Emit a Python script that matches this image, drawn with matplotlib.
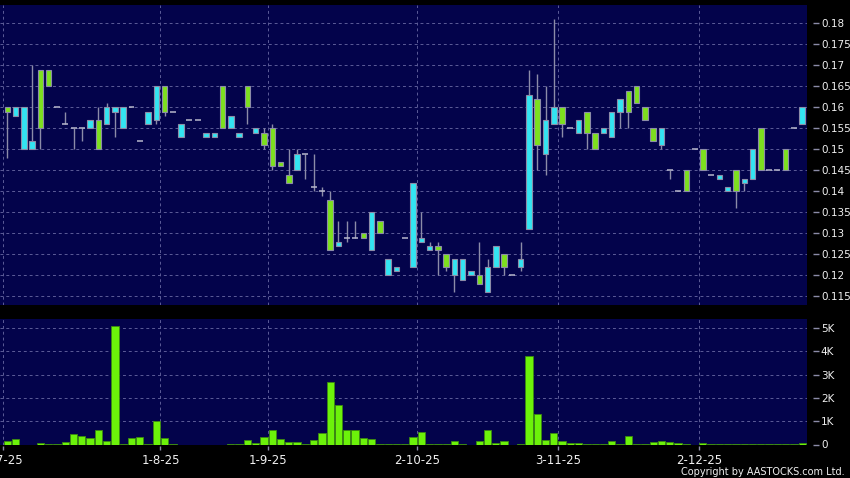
import matplotlib
matplotlib.use('Agg')
from matplotlib import pyplot as plt
from matplotlib.ticker import FixedLocator, FuncFormatter
import numpy as np

# daily candles (one slot per trading day with a trade)
opens = [0.160, 0.158, 0.150, 0.150, 0.169, 0.169, 0.160, 0.156, 0.155, 0.155,
         0.155, 0.157, 0.156, 0.159, 0.155, 0.160, 0.152, 0.156, 0.157, 0.165,
         0.159, 0.153, 0.157, 0.157, 0.153, 0.153, 0.165, 0.155, 0.153, 0.165,
         0.154, 0.154, 0.155, 0.147, 0.144, 0.145, 0.149, 0.141, 0.140, 0.138,
         0.127, 0.129, 0.129, 0.130, 0.126, 0.133, 0.120, 0.121, 0.129, 0.122,
         0.128, 0.126, 0.127, 0.125, 0.120, 0.119, 0.120, 0.120, 0.116, 0.122,
         0.125, 0.120, 0.122, 0.131, 0.162, 0.149, 0.156, 0.160, 0.155, 0.154,
         0.159, 0.154, 0.154, 0.153, 0.159, 0.164, 0.165, 0.160, 0.155, 0.151,
         0.145, 0.140, 0.145, 0.150, 0.150, 0.144, 0.143, 0.140, 0.145, 0.142,
         0.143, 0.155, 0.145, 0.145, 0.150, 0.155, 0.156]
highs = [0.160, 0.160, 0.160, 0.170, 0.169, 0.169, 0.160, 0.159, 0.155, 0.155,
         0.157, 0.160, 0.161, 0.160, 0.160, 0.160, 0.152, 0.159, 0.165, 0.165,
         0.159, 0.156, 0.157, 0.157, 0.154, 0.154, 0.165, 0.158, 0.154, 0.165,
         0.155, 0.155, 0.156, 0.147, 0.150, 0.150, 0.149, 0.149, 0.141, 0.140,
         0.133, 0.133, 0.133, 0.130, 0.135, 0.133, 0.124, 0.122, 0.129, 0.142,
         0.135, 0.128, 0.128, 0.125, 0.124, 0.124, 0.121, 0.128, 0.124, 0.127,
         0.125, 0.120, 0.128, 0.169, 0.168, 0.165, 0.181, 0.160, 0.155, 0.157,
         0.159, 0.154, 0.155, 0.159, 0.162, 0.164, 0.165, 0.160, 0.155, 0.155,
         0.145, 0.140, 0.145, 0.150, 0.150, 0.144, 0.144, 0.141, 0.145, 0.143,
         0.150, 0.155, 0.145, 0.145, 0.150, 0.155, 0.160]
lows = [0.148, 0.158, 0.150, 0.150, 0.150, 0.165, 0.160, 0.156, 0.150, 0.152,
        0.155, 0.150, 0.156, 0.153, 0.155, 0.160, 0.152, 0.156, 0.156, 0.158,
        0.159, 0.153, 0.157, 0.157, 0.153, 0.153, 0.155, 0.155, 0.153, 0.156,
        0.154, 0.150, 0.145, 0.146, 0.142, 0.145, 0.143, 0.140, 0.139, 0.126,
        0.127, 0.128, 0.129, 0.129, 0.126, 0.130, 0.120, 0.121, 0.129, 0.122,
        0.128, 0.126, 0.120, 0.121, 0.116, 0.119, 0.120, 0.118, 0.116, 0.122,
        0.120, 0.120, 0.121, 0.131, 0.145, 0.144, 0.156, 0.153, 0.155, 0.154,
        0.150, 0.150, 0.154, 0.153, 0.155, 0.155, 0.161, 0.157, 0.152, 0.150,
        0.143, 0.140, 0.140, 0.150, 0.145, 0.144, 0.143, 0.140, 0.136, 0.140,
        0.143, 0.145, 0.145, 0.145, 0.145, 0.155, 0.156]
closes = [0.159, 0.160, 0.160, 0.152, 0.155, 0.165, 0.160, 0.156, 0.155, 0.155,
          0.157, 0.150, 0.160, 0.160, 0.160, 0.160, 0.152, 0.159, 0.165, 0.159,
          0.159, 0.156, 0.157, 0.157, 0.154, 0.154, 0.155, 0.158, 0.154, 0.160,
          0.155, 0.151, 0.146, 0.146, 0.142, 0.149, 0.149, 0.141, 0.140, 0.126,
          0.128, 0.129, 0.129, 0.129, 0.135, 0.130, 0.124, 0.122, 0.129, 0.142,
          0.129, 0.127, 0.126, 0.122, 0.124, 0.124, 0.121, 0.118, 0.122, 0.127,
          0.122, 0.120, 0.124, 0.163, 0.151, 0.157, 0.160, 0.156, 0.155, 0.157,
          0.154, 0.150, 0.155, 0.159, 0.162, 0.159, 0.161, 0.157, 0.152, 0.155,
          0.145, 0.140, 0.140, 0.150, 0.145, 0.144, 0.144, 0.141, 0.140, 0.143,
          0.150, 0.145, 0.145, 0.145, 0.145, 0.155, 0.160]
# volume in thousands of shares
volumes = [0.17, 0.24, 0.00, 0.00, 0.06, 0.03, 0.04, 0.10, 0.43, 0.36,
           0.29, 0.63, 0.17, 5.09, 0.04, 0.26, 0.32, 0.04, 1.00, 0.29,
           0.03, 0.00, 0.00, 0.00, 0.00, 0.00, 0.00, 0.01, 0.02, 0.20,
           0.05, 0.34, 0.62, 0.24, 0.11, 0.09, 0.01, 0.20, 0.49, 2.70,
           1.71, 0.63, 0.63, 0.29, 0.22, 0.01, 0.04, 0.02, 0.01, 0.32,
           0.55, 0.04, 0.04, 0.04, 0.14, 0.04, 0.00, 0.14, 0.63, 0.05,
           0.14, 0.00, 0.04, 3.79, 1.32, 0.19, 0.50, 0.13, 0.05, 0.05,
           0.04, 0.04, 0.01, 0.14, 0.04, 0.36, 0.01, 0.04, 0.11, 0.13,
           0.09, 0.07, 0.01, 0.00, 0.05, 0.01, 0.03, 0.01, 0.01, 0.03,
           0.02, 0.01, 0.01, 0.02, 0.01, 0.01, 0.05]

# first trading slot of each month
month_slots = [0, 19, 32, 50, 67, 84]
month_labels = ['2-7-25', '1-8-25', '1-9-25', '2-10-25', '3-11-25', '2-12-25']
price_ticks = [0.115, 0.12, 0.125, 0.13, 0.135, 0.14, 0.145, 0.15, 0.155,
               0.16, 0.165, 0.17, 0.175, 0.18]
volume_ticks = [0, 1, 2, 3, 4, 5]

navy = '#03034b'
up_col = '#33e4f2'
down_col = '#7de01e'
vol_col = '#6cf20a'
grid_col = '#5c5c98'
edge_col = '#8c8ca8'
txt_col = '#f0f0f0'

o = np.array(opens)
h = np.array(highs)
l = np.array(lows)
c = np.array(closes)
x = np.arange(len(o))

fig = plt.figure(figsize=(8.5, 4.78), dpi=100, facecolor='black')
ax = fig.add_axes([0.0, 1 - 305 / 478, 807 / 850, 300 / 478])
axv = fig.add_axes([0.0, 1 - 444.5 / 478, 807 / 850, 125.5 / 478])

for a in (ax, axv):
    a.set_facecolor(navy)
    for s in a.spines.values():
        s.set_visible(False)
    a.set_xlim(-0.88, 96.58)
    a.xaxis.set_major_locator(FixedLocator([m - 0.5 for m in month_slots]))
    a.yaxis.tick_right()
    a.spines['right'].set_position(('outward', 4))
    a.spines['bottom'].set_position(('outward', 1))
    a.tick_params(axis='y', colors=edge_col, labelcolor=txt_col, length=4,
                  width=1, pad=2, labelsize=7.5)
    a.tick_params(axis='x', colors=edge_col, labelcolor=txt_col, length=3,
                  width=1, pad=3, labelsize=8.5)
    a.grid(True, color=grid_col, linestyle=(0, (3, 3)), linewidth=0.7)
    a.set_axisbelow(True)

# wicks
ax.vlines(x, l, h, color=edge_col, linewidth=1, zorder=2)

# bodies
up = c > o
down = c < o
flat = c == o
ax.bar(x[up], (c - o)[up], bottom=o[up], width=0.66, color=up_col,
       edgecolor=edge_col, linewidth=0.8, zorder=3)
ax.bar(x[down], (o - c)[down], bottom=c[down], width=0.66, color=down_col,
       edgecolor=edge_col, linewidth=0.8, zorder=3)
ax.hlines(o[flat], x[flat] - 0.36, x[flat] + 0.36, color='#b8b8cc',
          linewidth=1.1, zorder=3)

ax.set_ylim(0.11293, 0.18436)
ax.set_yticks(price_ticks)
ax.yaxis.set_major_formatter(FuncFormatter(lambda v, p: f'{v:g}'))
ax.tick_params(axis='x', length=0, labelbottom=False)

axv.bar(x, volumes, width=0.88, color=vol_col, edgecolor='#3c8a10',
        linewidth=0.6, zorder=3)
axv.set_ylim(0, 5.39)
axv.set_yticks(volume_ticks)
axv.yaxis.set_major_formatter(FuncFormatter(lambda v, p: '0' if v == 0 else f'{v:g}K'))
axv.set_xticklabels(month_labels)

fig.text(845 / 850, 1 - 472 / 478, 'Copyright by AASTOCKS.com Ltd.', color=txt_col,
         fontsize=7, ha='right', va='center')

plt.savefig('out.png', dpi=100, facecolor='black')
